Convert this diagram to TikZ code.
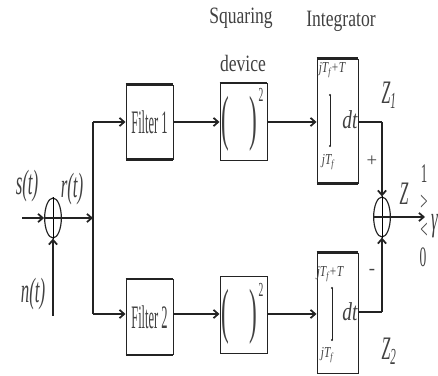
\documentclass[tikz,border=0pt]{standalone}
\usepackage{fontspec}
\setmainfont{Liberation Serif}
\newfontfamily\boxfont[FakeStretch=0.38]{Liberation Serif}
\newfontfamily\sigfont[FakeStretch=0.48]{Liberation Serif}
\newfontfamily\capfont[FakeStretch=0.75]{Liberation Serif}
\usetikzlibrary{positioning,shapes.geometric,arrows.meta}
\definecolor{linedark}{RGB}{35,35,35}
\definecolor{textgray}{RGB}{65,65,65}
\tikzset{
  blockbox/.style={draw=linedark, fill=white, line width=0.8pt, inner sep=0pt,
                   text=textgray, font=\boxfont\fontsize{28}{30}\selectfont},
  sumnode/.style={ellipse, draw=linedark, line width=1pt, inner sep=0pt,
                  minimum width=0.5cm, minimum height=1.2cm},
  sig/.style={line width=1.5pt, linedark, -{Straight Barb[length=4pt,width=7pt]}},
  wire/.style={line width=1.5pt, linedark},
  heavyedge/.style={line width=2.4pt, linedark},
  lbl/.style={inner sep=0pt, text=textgray},
  siglbl/.style={lbl, font=\sigfont\itshape\fontsize{30}{32}\selectfont},
  caplbl/.style={lbl, font=\capfont\fontsize{20}{22}\selectfont},
  parlbl/.style={lbl, font=\boxfont\fontsize{52}{54}\selectfont},
  powlbl/.style={lbl, font=\sigfont\fontsize{17}{18}\selectfont},
  limlbl/.style={lbl, font=\capfont\itshape\fontsize{13}{14}\selectfont},
  dtlbl/.style={lbl, font=\capfont\itshape\fontsize{22}{24}\selectfont},
  declbl/.style={lbl, anchor=base, font=\sigfont\fontsize{23}{24}\selectfont}
}

\begin{document}
\begin{tikzpicture}[x=0.03cm,y=-0.03cm]
  \useasboundingbox (0,0) rectangle (438,376);

  % input side
  \coordinate (sin) at (22,218);
  \node[sumnode] (sum1) at (53,218) {};
  \coordinate (nin) at (53,316);
  \coordinate (split) at (93,218);
  \coordinate (splittop) at (93,122);
  \coordinate (splitbot) at (93,314);
  \draw (sum1.north) -- (sum1.south);
  \draw[sig] (sin) -- (sum1.west);
  \draw[sig] (nin) -- (sum1.south);
  \draw[wire] (sum1.west) -- (sum1.east);
  \draw[sig] (sum1.east) -- (split);
  \draw[wire] (splittop) -- (splitbot);
  \node[siglbl] (slbl) at (27,186) {s(t)};
  \node[siglbl] (rlbl) at (72,189) {r(t)};
  \node[siglbl] (nlbl) at (33,294) {n(t)};

  % upper branch
  \node[blockbox, minimum width=1.41cm, minimum height=2.22cm] (filt1) at (149.5,122) {Filter 1};
  \node[blockbox, minimum width=1.41cm, minimum height=2.31cm] (sq1) at (243.5,122) {};
  \node[blockbox, minimum width=1.23cm, minimum height=3.72cm] (int1) at (337.5,121) {};
  \node[parlbl] (par1) at (239.5,124) {(\hspace{0.6cm})};
  \node[powlbl] (pow1) at (261,95) {2};
  \draw[sig] (splittop) -- (filt1);
  \draw[sig] (filt1) -- (sq1);
  \draw[sig] (sq1.east) -- (int1.west |- sq1.east);

  % upper integrator limits
  \node[limlbl] (up1) at (332,70) {jT\textsubscript{f}+T};
  \node[limlbl] (lo1) at (328,162) {jT\textsubscript{f}};
  \node[dtlbl] (dt1) at (350,120) {dt};
  \draw[linedark, thin] (330,95) -- (330,146);
  \fill[linedark] (330,95) circle (1.2) (330,146) circle (1.2);

  % lower branch
  \node[blockbox, minimum width=1.41cm, minimum height=2.25cm] (filt2) at (149.5,317) {Filter 2};
  \node[blockbox, minimum width=1.41cm, minimum height=2.31cm] (sq2) at (243.5,314.5) {};
  \node[blockbox, minimum width=1.23cm, minimum height=3.6cm] (int2) at (337.5,313) {};
  \node[parlbl] (par2) at (239.5,317) {(\hspace{0.6cm})};
  \node[powlbl] (pow2) at (261,290) {2};
  \draw[sig] (splitbot) -- (filt2.west |- splitbot);
  \draw[sig] (filt2.east |- splitbot) -- (sq2.west |- splitbot);
  \draw[sig] (sq2.east |- splitbot) -- (int2.west |- splitbot);

  % lower integrator limits
  \node[limlbl] (up2) at (330,274) {jT\textsubscript{f}+T};
  \node[limlbl] (lo2) at (327,355) {jT\textsubscript{f}};
  \node[dtlbl] (dt2) at (350,312) {dt};
  \draw[linedark, thin] (332,288) -- (332,340);
  \fill[linedark] (332,288) circle (1.2) (332,340) circle (1.2);

  % heavy box edges
  \foreach \p/\q in {filt1.north west/filt1.north east, filt1.south west/filt1.south east,
                     sq1.north west/sq1.north east, int1.north west/int1.north east,
                     int1.south west/int1.south east, filt2.north west/filt2.north east,
                     filt2.south west/filt2.south east, int2.north west/int2.north east}
    \draw[heavyedge] (\p) -- (\q);

  % headings
  \node[caplbl] (sqhead) at (241,18) {Squaring};
  \node[caplbl] (sqhead2) at (243,63) {device};
  \node[caplbl] (inthead) at (341,21) {Integrator};

  % output junction
  \node[sumnode] (sum2) at (382,217) {};
  \draw (sum2.north) -- (sum2.south);
  \coordinate (z1corner) at (382,122);
  \coordinate (z2corner) at (382,312);
  \coordinate (zout) at (425,217);
  \draw[wire] (int1.east |- z1corner) -- (z1corner);
  \draw[sig] (z1corner) -- (sum2.north);
  \draw[wire] (int2.east |- z2corner) -- (z2corner);
  \draw[sig] (z2corner) -- (sum2.south);
  \draw[wire] (sum2.west) -- (sum2.east);
  \draw[sig] (sum2.east) -- (zout);

  % output labels
  \node[lbl, font=\sigfont\itshape\fontsize{28}{30}\selectfont] (z1lbl) at (389,95) {Z\textsubscript{1}};
  \node[lbl, font=\sigfont\itshape\fontsize{28}{30}\selectfont] (z2lbl) at (389,351) {Z\textsubscript{2}};
  \node[lbl, font=\sigfont\itshape\fontsize{28}{30}\selectfont] (zlbl) at (404,194) {Z};
  \node[lbl, font=\fontsize{16}{16}\selectfont] (plus) at (372,161) {+};
  \node[lbl, font=\fontsize{16}{16}\selectfont] (minus) at (372,272) {-};
  \node[declbl] (one) at (424,183) {1};
  \node[declbl] (gt) at (424,211) {>};
  \node[declbl] (lt) at (424,239) {<};
  \node[declbl, font=\sigfont\fontsize{24}{26}\selectfont] (zero) at (423,267) {0};
  \node[siglbl, anchor=west] (gam) at (431,226) {γ};
\end{tikzpicture}
\end{document}
